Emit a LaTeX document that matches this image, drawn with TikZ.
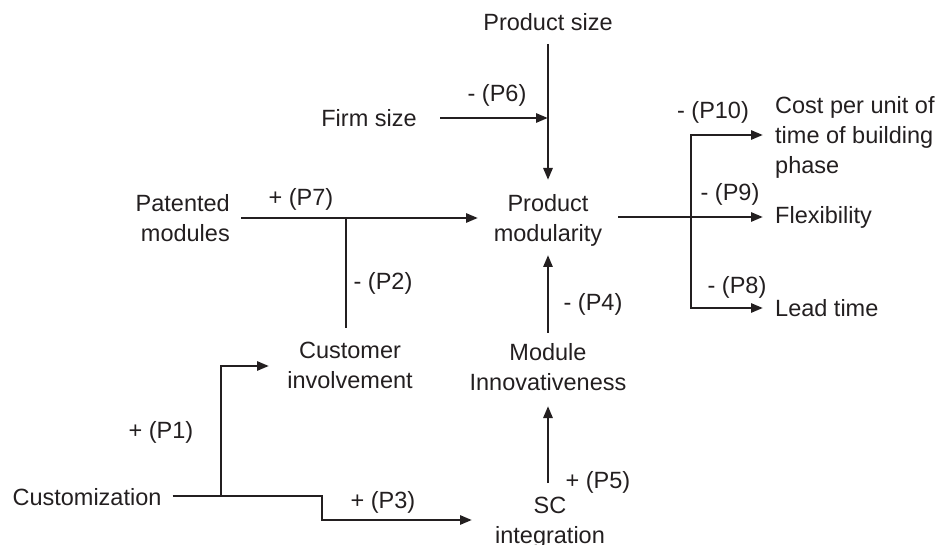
\documentclass[tikz,border=0pt]{standalone}
\usepackage{fontspec}
\setmainfont{Liberation Sans}
\usetikzlibrary{arrows.meta}
\definecolor{ink}{HTML}{231F20}
\begin{document}
\begin{tikzpicture}[x=1pt,y=-1pt,
  lbl/.style={inner sep=0pt, text depth=0pt, font=\fontsize{23.5}{30}\selectfont, text=ink},
  arr/.style={draw=ink, line width=2.7pt, -{Triangle[length=12pt,width=9pt]}},
  ln/.style={draw=ink, line width=2.7pt}]
\useasboundingbox (0,0) rectangle (940,545);
% concept nodes
\node[lbl] (psize) at (548,22) {Product size};
\node[lbl] (fsize) at (369,118) {Firm size};
\node[lbl,align=center] (pm) at (548,218) {Product\\modularity};
\node[lbl,align=right,anchor=east] (pat) at (230,218) {Patented\\modules};
\node[lbl,align=center] (cust) at (350,365) {Customer\\involvement};
\node[lbl,align=center] (mod) at (548,367) {Module\\Innovativeness};
\node[lbl,align=center] (sc) at (550,520) {SC\\integration};
\node[lbl] (custz) at (87,497) {Customization};
\node[lbl,align=left,anchor=west] (cost) at (775,135) {Cost per unit of\\time of building\\phase};
\node[lbl,anchor=west] (flex) at (775,215) {Flexibility};
\node[lbl,anchor=west] (lead) at (775,308) {Lead time};
% junctions
\coordinate (j6) at (548,118);
\coordinate (j2) at (346,218);
\coordinate (j1) at (221,496);
\coordinate (k3) at (322,496);
\coordinate (rj) at (691,217);
% connectors
\draw[arr] ([yshift=-22pt]psize.center) -- ([yshift=38pt]pm.center);
\draw[arr] ([xshift=71pt]fsize.center) -- (j6);
\draw[arr] ([xshift=11pt]pat.east) -- ([xshift=-70pt]pm.center);
\draw[ln] (j2) -- ([yshift=37pt]cust.center -| j2);
\draw[ln] ([xshift=11pt]custz.east |- j1) -- (j1);
\draw[arr] (j1) |- ([xshift=-81pt,yshift=-1pt]cust.center);
\draw[arr] (j1) -- (k3) |- ([xshift=-78pt]sc.center);
\draw[arr] ([yshift=37pt]sc.center -| mod.center) -- ([yshift=-39pt]mod.center);
\draw[arr] ([yshift=34pt]mod.center) -- ([yshift=-37pt]pm.center);
\draw[arr] ([xshift=70pt]pm.center |- rj) -- ([xshift=-12pt]flex.west |- rj);
\draw[arr] (rj) |- ([xshift=-12pt]cost.west);
\draw[arr] (rj) |- ([xshift=-12pt]lead.west);
% labels
\node[lbl] (l6) at (497,93) {- (P6)};
\node[lbl] (l7) at (301,197) {+ (P7)};
\node[lbl] (l2) at (383,281) {- (P2)};
\node[lbl] (l1) at (161,430) {+ (P1)};
\node[lbl] (l3) at (383,500) {+ (P3)};
\node[lbl] (l5) at (598,480) {+ (P5)};
\node[lbl] (l4) at (593,302) {- (P4)};
\node[lbl] (l10) at (713,110) {- (P10)};
\node[lbl] (l9) at (730,192) {- (P9)};
\node[lbl] (l8) at (737,285) {- (P8)};
\end{tikzpicture}
\end{document}
